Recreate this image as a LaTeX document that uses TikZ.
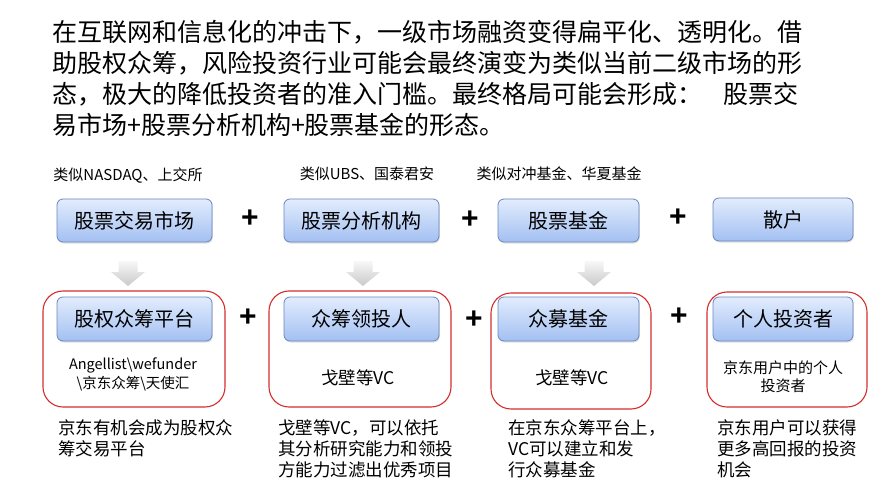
\documentclass[tikz,border=0pt]{standalone}
\usepackage{fontspec}
\setmainfont{Noto Sans CJK SC}
\newfontfamily\plusfont{Liberation Sans}
\usetikzlibrary{positioning, shadows}

\definecolor{boxtop}{RGB}{226,236,253}
\definecolor{boxbot}{RGB}{163,192,242}
\definecolor{boxline}{RGB}{105,135,190}
\definecolor{framered}{RGB}{212,45,45}

\tikzset{
  bluebox/.style={draw=boxline, line width=0.8pt, rounded corners=6pt,
    top color=boxtop, bottom color=boxbot, minimum height=43pt,
    font=\fontsize{20}{24}\selectfont,
    drop shadow={shadow xshift=0.8pt, shadow yshift=-1.5pt, opacity=0.25}},
  redframe/.style={draw=framered, line width=1.1pt, rounded corners=20pt,
    minimum height=116pt},
  plussign/.style={font=\plusfont\bfseries\fontsize{30}{30}\selectfont},
  hint/.style={font=\fontsize{15}{18}\selectfont},
  note/.style={font=\fontsize{17.5}{21}\selectfont, align=left,
    anchor=base west, inner sep=0pt},
  downarrow/.style={top color=gray!6, bottom color=gray!42}
}

\begin{document}
\begin{tikzpicture}[x=1pt, y=-1pt]
    \useasboundingbox (0,0) rectangle (895,500);
    % headline (base = last line)
    \node[anchor=base west, inner sep=0pt, align=left,
      font=\fontsize{25}{31}\selectfont] (head) at (52,134.5)
      {在互联网和信息化的冲击下，一级市场融资变得扁平化、透明化。借\\
       助股权众筹，风险投资行业可能会最终演变为类似当前二级市场的形\\
       态，极大的降低投资者的准入门槛。最终格局可能会形成：\hspace{0.85em}股票交\\
       易市场+股票分析机构+股票基金的形态。};
    % current market
    \node[hint] (h1) at (128,176) {类似NASDAQ、上交所};
    \node[hint] (h2) at (367,174) {类似UBS、国泰君安};
    \node[hint] (h3) at (559,174) {类似对冲基金、华夏基金};
    \node[bluebox, minimum width=155pt] (market) at (134.5,220.5) {股票交易市场};
    \node[bluebox, minimum width=155pt] (analyst) at (361.5,220.5) {股票分析机构};
    \node[bluebox, minimum width=141pt] (fund) at (568.5,220.5) {股票基金};
    \node[bluebox, minimum width=140pt] (retail) at (783,219.5) {散户};
    \node[plussign] (p1) at (250,219) {+};
    \node[plussign] (p2) at (470,220) {+};
    \node[plussign] (p3) at (678,218) {+};
    % arrows
    \foreach \ax/\nm in {128/ar1, 363/ar2, 594/ar3} {
      \coordinate (\nm) at (\ax,261);
      \shade[downarrow] (\nm) ++(-9.5,0) -- ++(19,0) -- ++(0,11) -- ++(7.5,0)
        -- ++(-17,14) -- ++(-17,-14) -- ++(7.5,0) -- cycle;
    }
    % crowdfunding
    \node[redframe, minimum width=182pt] (fr1) at (134,349) {};
    \node[redframe, minimum width=182pt] (fr2) at (360,349) {};
    \node[redframe, minimum width=160pt] (fr3) at (571,351) {};
    \node[redframe, minimum width=160pt, minimum height=115pt] (fr4) at (787,349.5) {};
    \node[bluebox, minimum width=155pt, minimum height=44pt] (platform) at (134.5,319) {股权众筹平台};
    \node[bluebox, minimum width=155pt, minimum height=44pt] (lead) at (361.5,319) {众筹领投人};
    \node[bluebox, minimum width=141pt, minimum height=44pt] (cfund) at (568.5,319) {众募基金};
    \node[bluebox, minimum width=140pt, minimum height=44pt] (person) at (783,319) {个人投资者};
    \node[plussign] (q1) at (248,318) {+};
    \node[plussign] (q2) at (474,320) {+};
    \node[plussign] (q3) at (679,317) {+};
    \node[align=center, font=\fontsize{14.5}{19}\selectfont] (e1) at (133,374.5)
      {Angellist\textbackslash wefunder\\\textbackslash 京东众筹\textbackslash 天使汇};
    \node[font=\fontsize{17.5}{21}\selectfont] (e2) at (358,378) {戈壁等VC};
    \node[font=\fontsize{17.5}{21}\selectfont] (e3) at (572,378) {戈壁等VC};
    \node[align=center, font=\fontsize{15}{18}\selectfont] (e4) at (783,377)
      {京东用户中的个人\\投资者};
    % notes (base = last line)
    \node[note] (n1) at (58,455.5) {京东有机会成为股权众\\筹交易平台};
    \node[note] (n2) at (278,476.5) {戈壁等VC，可以依托\\其分析研究能力和领投\\方能力过滤出优秀项目};
    \node[note] (n3) at (508,476.5) {在京东众筹平台上，\\VC可以建立和发\\行众募基金};
    \node[note] (n4) at (717,476.5) {京东用户可以获得\\更多高回报的投资\\机会};
  \end{tikzpicture}
\end{document}
